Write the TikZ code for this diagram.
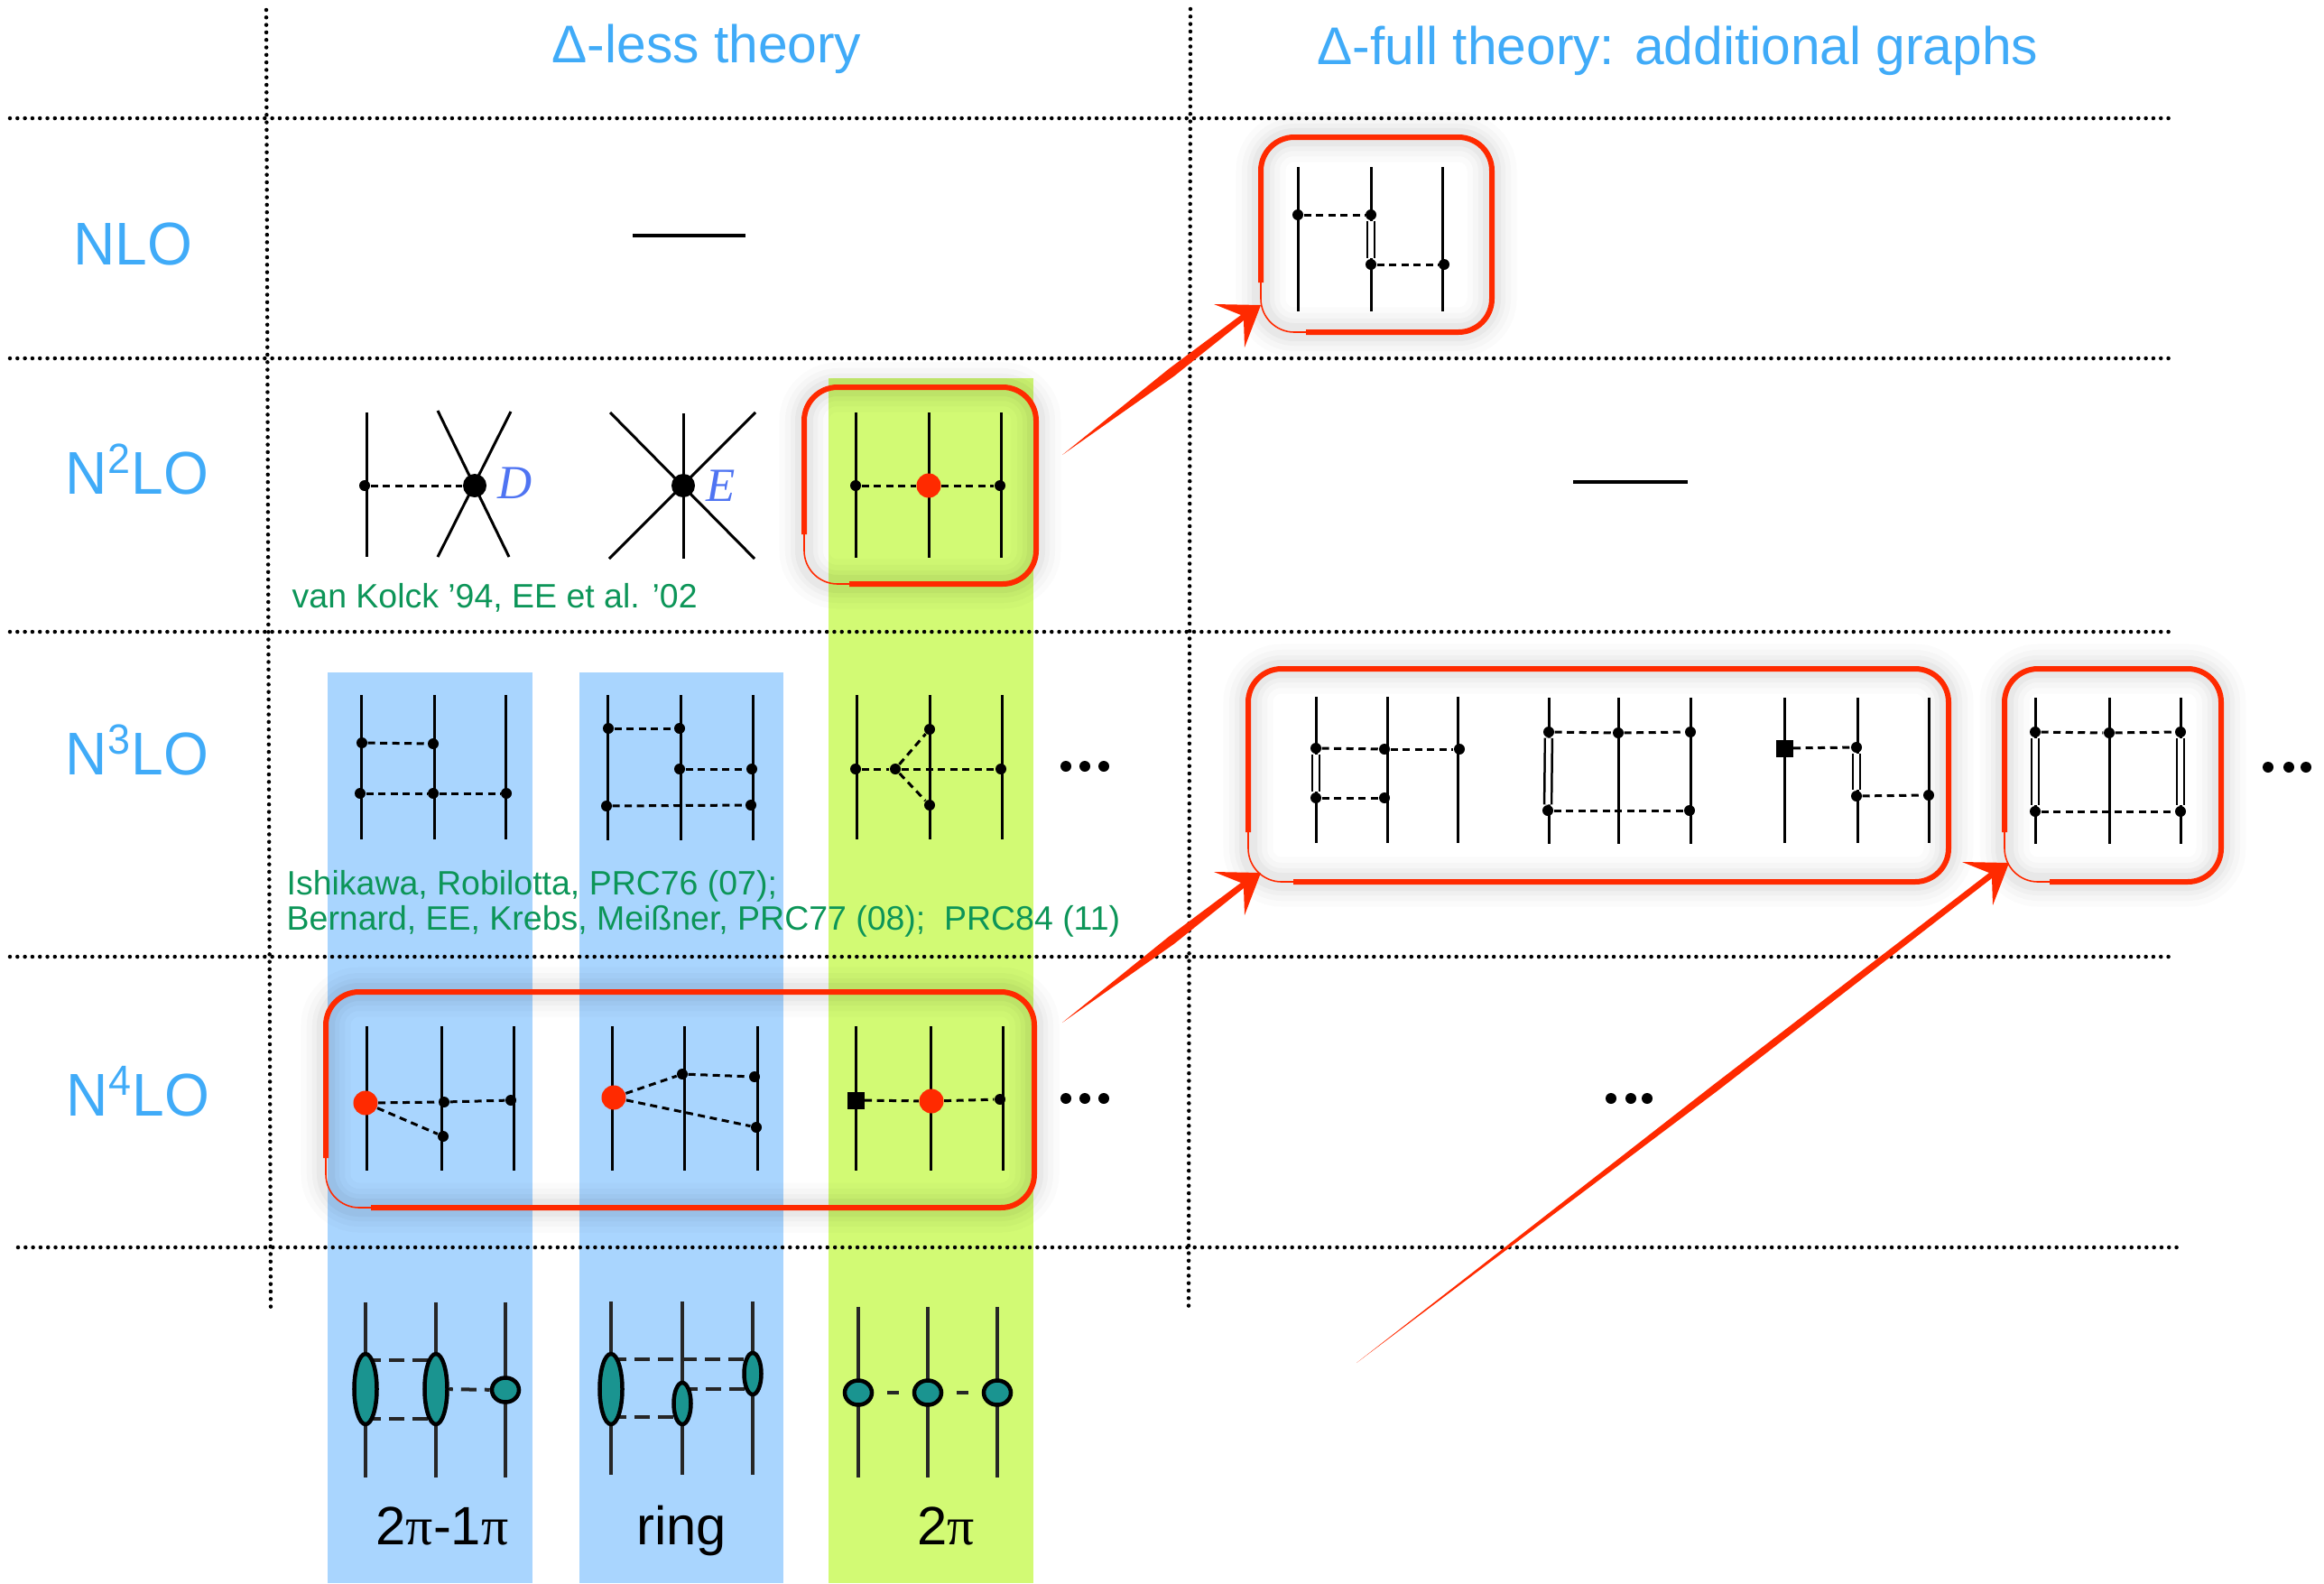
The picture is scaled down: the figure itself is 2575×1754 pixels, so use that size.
\documentclass[tikz,border=0pt]{standalone}
\usepackage{fontspec}
\usetikzlibrary{calc,shapes.geometric}
\setmainfont{Liberation Sans}
\newfontfamily\orderfont[FakeStretch=.96]{Liberation Sans}
\newfontfamily\vertexfont[Ligatures=TeX]{Liberation Serif}
\definecolor{headblue}{HTML}{40ABF8}
\definecolor{citegreen}{HTML}{0C9558}
\definecolor{barblue}{HTML}{A9D5FE}
\definecolor{bargreen}{HTML}{D2FA74}
\definecolor{redink}{HTML}{FF2A00}
\definecolor{blobteal}{HTML}{1A9490}
\definecolor{letterblue}{HTML}{4F74F2}
\tikzset{
    gridline/.style={line width=.045cm,line cap=round,dash pattern=on 0cm off .083cm},
    nucleon/.style={line width=.03cm},
    pion/.style={line width=.03cm,dash pattern=on .08cm off .055cm},
    delta/.style={line width=.025cm,double=white,double distance=.055cm},
    vtx/.style={circle,fill=black,inner sep=0pt,minimum size=.12cm},
    bigvtx/.style={circle,fill=black,inner sep=0pt,minimum size=.26cm},
    redvtx/.style={circle,fill=redink,inner sep=0pt,minimum size=.27cm},
    sqvtx/.style={rectangle,fill=black,inner sep=0pt,minimum size=.19cm},
    thickbar/.style={line width=.045cm},
    blobline/.style={line width=.04cm,draw=black!85},
    blobpion/.style={line width=.04cm,draw=black!85,dash pattern=on .17cm off .09cm},
    blobgap/.style={line width=.04cm,draw=black!85,shorten <=.15cm,shorten >=.15cm},
    blob/.style={ellipse,draw=black,fill=blobteal,line width=.045cm,inner sep=0pt},
    tallblob/.style={blob,minimum width=.25cm,minimum height=.78cm},
    midblob/.style={blob,minimum width=.19cm,minimum height=.46cm},
    roundblob/.style={blob,minimum width=.3cm,minimum height=.27cm},
    head/.style={anchor=base,text=headblue,font=\fontsize{16.7}{18}\selectfont},
    order/.style={anchor=base,text=headblue,font=\orderfont\fontsize{19}{21}\selectfont},
    cite/.style={anchor=base west,inner sep=0pt,text=citegreen,font=\fontsize{10.65}{12}\selectfont},
    tag/.style={anchor=base,font=\fontsize{17}{18}\selectfont},
    letter/.style={text=letterblue,font=\vertexfont\itshape\fontsize{15}{16}\selectfont},
    glow/.style={
        preaction={draw=black,opacity=.016,line width=.55cm,yshift=-.04cm},
        preaction={draw=black,opacity=.02,line width=.42cm,yshift=-.04cm},
        preaction={draw=black,opacity=.024,line width=.3cm,yshift=-.04cm},
        preaction={draw=black,opacity=.03,line width=.2cm,yshift=-.04cm}},
    brush/.style={draw=redink,line width=.06cm,
        postaction={draw=redink,line width=.012cm,xshift=-.045cm,yshift=-.04cm}},
    brushthin/.style={draw=redink,line width=.016cm},
}
\newcommand{\nucleons}[3]{\foreach \x in {#1} \draw[nucleon] (\x,#2) -- (\x,#3);}
\newcommand{\blobs}[3]{\foreach \x in {#1} \draw[blobline] (\x,#2) -- (\x,#3);}
\newcommand{\brushbox}[4]{
    \path[glow,rounded corners=.37cm] (#1,#2) rectangle (#3,#4);
    \draw[brushthin,rounded corners=.37cm] (#1,#4-90) -- (#1,#4) -- (#1+90,#4);
    \draw[brush,rounded corners=.37cm] (#1,#4-55) -- (#1,#2) -- (#3,#2) -- (#3,#4) -- (#1+50,#4);
}
\newcommand{\brusharrow}[3]{
    \fill[redink] (#1) -- ($(#1)!.55!(#2)!#3!90:(#2)$) -- ($(#2)+(-22,11)$) -- ($(#2)+(-52,-1)$)
        -- (#2) -- ($(#2)+(-18,47)$) -- ($(#2)+(-19,17)$) -- ($(#1)!.55!(#2)!#3!-90:(#2)$) -- cycle;
}
\begin{document}
\begin{tikzpicture}[x=.01cm,y=-.01cm]
        \useasboundingbox (0,0) rectangle (2575,1754);
        \fill[barblue] (363,745) rectangle (590,1754);
        \fill[barblue] (642,745) rectangle (868,1754);
        \fill[bargreen] (918,419) rectangle (1145,1754);

        \draw[gridline] (11,131) -- (2405,131);
        \draw[gridline] (11,397) -- (2405,397);
        \draw[gridline] (11,700) -- (2405,700);
        \draw[gridline] (11,1060) -- (2405,1060);
        \draw[gridline] (20,1382) -- (2415,1382);
        \draw[gridline] (295,11) -- (300,1452);
        \draw[gridline] (1319,10) -- (1317,1450);

        \node[head] (hdless) at (783,69) {Δ-less theory};
        \node[head] (hdfull) at (1859,71) {Δ-full theory: additional graphs};
        \node[order] (nlo) at (147,293) {NLO};
        \node[order] (ntwolo) at (152,547) {N\textsuperscript{2}LO};
        \node[order] (nthreelo) at (152,858) {N\textsuperscript{3}LO};
        \node[order] (nfourlo) at (153,1236) {N\textsuperscript{4}LO};
        \node[cite] (refvk) at (323,673) {van Kolck ’94, EE et al. ’02};
        \node[cite] (refik) at (317,991) {Ishikawa, Robilotta, PRC76 (07);};
        \node[cite] (refbe) at (317,1030) {Bernard, EE, Krebs, Meißner, PRC77 (08);\ \ PRC84 (11)};
        \node[tag] (tagtpo) at (490,1711) {2{\vertexfont π}-1{\vertexfont π}};
        \node[tag] (tagring) at (755,1711) {ring};
        \node[tag] (tagtp) at (1048,1711) {2{\vertexfont π}};

        \coordinate (barla) at (701,261);
        \coordinate (barlb) at (826,261);
        \draw[thickbar] (barla) -- (barlb);
        \coordinate (barra) at (1743,534);
        \coordinate (barrb) at (1870,534);
        \draw[thickbar] (barra) -- (barrb);

        \nucleons{1438,1519,1598}{185}{345}
        \node[vtx] (da) at (1438,238) {};
        \node[vtx] (db) at (1519,238) {};
        \node[vtx] (dc) at (1519,293) {};
        \node[vtx] (dd) at (1600,293) {};
        \draw[pion] (da) -- (db);
        \draw[delta] (db) -- (dc);
        \draw[pion] (dc) -- (dd);

        \nucleons{406}{457}{617}
        \draw[nucleon] (485,455) -- (564,617);
        \draw[nucleon] (566,456) -- (485,617);
        \node[vtx] (ca) at (404,538) {};
        \node[bigvtx] (cb) at (526,538) {};
        \draw[pion] (ca) -- (cb);
        \node[letter] (cd) at (571,535) {D};
        \nucleons{757}{458}{619}
        \draw[nucleon] (676,457) -- (836,619);
        \draw[nucleon] (837,457) -- (675,619);
        \node[bigvtx] (ce) at (757,538) {};
        \node[letter] (cf) at (799,538) {E};
        \nucleons{948,1029,1109}{457}{618}
        \node[vtx] (ga) at (948,538) {};
        \node[redvtx] (gb) at (1029,538) {};
        \node[vtx] (gc) at (1108,538) {};
        \draw[pion] (ga) -- (gb);
        \draw[pion] (gb) -- (gc);

        \nucleons{400,481,560}{770}{930}
        \node[vtx] (ta) at (401,823) {};
        \node[vtx] (tb) at (480,824) {};
        \node[vtx] (tc) at (399,879) {};
        \node[vtx] (td) at (480,879) {};
        \node[vtx] (te) at (561,879) {};
        \draw[pion] (ta) -- (tb);
        \draw[pion] (tc) -- (td);
        \draw[pion] (td) -- (te);
        \nucleons{673,754,834}{770}{931}
        \node[vtx] (ra) at (674,807) {};
        \node[vtx] (rb) at (753,807) {};
        \node[vtx] (rc) at (753,852) {};
        \node[vtx] (rd) at (833,852) {};
        \node[vtx] (re) at (672,893) {};
        \node[vtx] (rf) at (832,892) {};
        \draw[pion] (ra) -- (rb);
        \draw[pion] (rc) -- (rd);
        \draw[pion] (re) -- (rf);
        \nucleons{949,1030,1110}{770}{930}
        \node[vtx] (ya) at (948,852) {};
        \node[vtx] (yb) at (992,852) {};
        \node[vtx] (yc) at (1030,808) {};
        \node[vtx] (yd) at (1030,892) {};
        \node[vtx] (ye) at (1109,852) {};
        \draw[pion] (ya) -- (yb);
        \draw[pion] (yb) -- (ye);
        \draw[pion] (yb) -- (yc);
        \draw[pion] (yb) -- (yd);
        \foreach \i/\x in {1/1181,2/1202,3/1223} \node[vtx] (dotsa\i) at (\x,849) {};

        \nucleons{1458,1537,1615}{772}{934}
        \node[vtx] (ua) at (1458,829) {};
        \node[vtx] (ub) at (1534,830) {};
        \node[vtx] (uc) at (1617,830) {};
        \node[vtx] (ud) at (1458,884) {};
        \node[vtx] (ue) at (1534,884) {};
        \draw[delta] (ua) -- (ud);
        \draw[pion] (ua) -- (ub);
        \draw[pion] (ub) -- (uc);
        \draw[pion] (ud) -- (ue);
        \nucleons{1716,1793,1873}{773}{935}
        \node[vtx] (va) at (1716,811) {};
        \node[vtx] (vb) at (1793,812) {};
        \node[vtx] (vc) at (1873,811) {};
        \node[vtx] (vd) at (1715,898) {};
        \node[vtx] (ve) at (1872,898) {};
        \draw[delta] (va) -- (vd);
        \draw[pion] (va) -- (vb);
        \draw[pion] (vb) -- (vc);
        \draw[pion] (vd) -- (ve);
        \nucleons{1977,2058,2137}{773}{934}
        \node[sqvtx] (wa) at (1977,829) {};
        \node[vtx] (wb) at (2057,828) {};
        \node[vtx] (wc) at (2057,882) {};
        \node[vtx] (wd) at (2137,881) {};
        \draw[delta] (wb) -- (wc);
        \draw[pion] (wa) -- (wb);
        \draw[pion] (wc) -- (wd);
        \nucleons{2255,2337,2416}{773}{935}
        \node[vtx] (xa) at (2255,811) {};
        \node[vtx] (xb) at (2337,812) {};
        \node[vtx] (xc) at (2416,811) {};
        \node[vtx] (xd) at (2255,899) {};
        \node[vtx] (xe) at (2416,899) {};
        \draw[delta] (xa) -- (xd);
        \draw[delta] (xc) -- (xe);
        \draw[pion] (xa) -- (xb);
        \draw[pion] (xb) -- (xc);
        \draw[pion] (xd) -- (xe);
        \foreach \i/\x in {1/2513,2/2536,3/2555} \node[vtx] (dotsb\i) at (\x,850) {};

        \nucleons{406,489,569}{1137}{1297}
        \node[redvtx] (ha) at (405,1222) {};
        \node[vtx] (hb) at (492,1221) {};
        \node[vtx] (hc) at (566,1219) {};
        \node[vtx] (hd) at (491,1259) {};
        \draw[pion] (ha) -- (hb);
        \draw[pion] (hb) -- (hc);
        \draw[pion] (ha) -- (hd);
        \nucleons{678,758,839}{1137}{1297}
        \node[redvtx] (ia) at (680,1216) {};
        \node[vtx] (ib) at (756,1190) {};
        \node[vtx] (ic) at (836,1193) {};
        \node[vtx] (id) at (838,1249) {};
        \draw[pion] (ia) -- (ib);
        \draw[pion] (ib) -- (ic);
        \draw[pion] (ia) -- (id);
        \nucleons{948,1031,1111}{1137}{1297}
        \node[sqvtx] (ja) at (948,1219) {};
        \node[redvtx] (jb) at (1032,1220) {};
        \node[vtx] (jc) at (1108,1218) {};
        \draw[pion] (ja) -- (jb);
        \draw[pion] (jb) -- (jc);
        \foreach \i/\x in {1/1181,2/1202,3/1223} \node[vtx] (dotsc\i) at (\x,1217) {};
        \foreach \i/\x in {1/1785,2/1807,3/1825} \node[vtx] (dotsd\i) at (\x,1217) {};

        \blobs{405,483,560}{1443}{1637}
        \coordinate (pa) at (405,1507);
        \coordinate (pb) at (483,1507);
        \coordinate (pc) at (405,1572);
        \coordinate (pd) at (483,1572);
        \draw[blobpion] (pa) -- (pb);
        \draw[blobpion] (pc) -- (pd);
        \node[tallblob] (pe) at (405,1539) {};
        \node[tallblob] (pf) at (483,1539) {};
        \node[roundblob] (pg) at (560,1540) {};
        \draw[blobpion,dash phase=.13cm] (pf) -- (pg);
        \blobs{677,756,834}{1442}{1634}
        \coordinate (qa) at (677,1506);
        \coordinate (qb) at (834,1506);
        \coordinate (qc) at (677,1570);
        \coordinate (qd) at (756,1570);
        \coordinate (qe) at (756,1539);
        \coordinate (qf) at (834,1539);
        \draw[blobpion] (qa) -- (qb);
        \draw[blobpion] (qc) -- (qd);
        \draw[blobpion] (qe) -- (qf);
        \node[tallblob] (qg) at (677,1539) {};
        \node[midblob] (qh) at (756,1555) {};
        \node[midblob] (qi) at (834,1522) {};
        \blobs{951,1028,1105}{1448}{1637}
        \node[roundblob] (sa) at (951,1543) {};
        \node[roundblob] (sb) at (1028,1543) {};
        \node[roundblob] (sc) at (1105,1543) {};
        \draw[blobgap] (sa) -- (sb);
        \draw[blobgap] (sb) -- (sc);

        \brushbox{1397}{152}{1653}{368}
        \brushbox{891}{429}{1148}{647}
        \brushbox{1383}{741}{2159}{977}
        \brushbox{2221}{741}{2461}{977}
        \brushbox{361}{1099}{1146}{1338}

        \coordinate (tailnlo) at (1177,504);
        \coordinate (tipnlo) at (1397,338);
        \brusharrow{tailnlo}{tipnlo}{.05cm}
        \coordinate (tailfull) at (1177,1133);
        \coordinate (tipfull) at (1397,967);
        \brusharrow{tailfull}{tipfull}{.05cm}
        \coordinate (taillong) at (1503,1510);
        \coordinate (tiplong) at (2226,956);
        \brusharrow{taillong}{tiplong}{.04cm}
    \end{tikzpicture}
\end{document}
